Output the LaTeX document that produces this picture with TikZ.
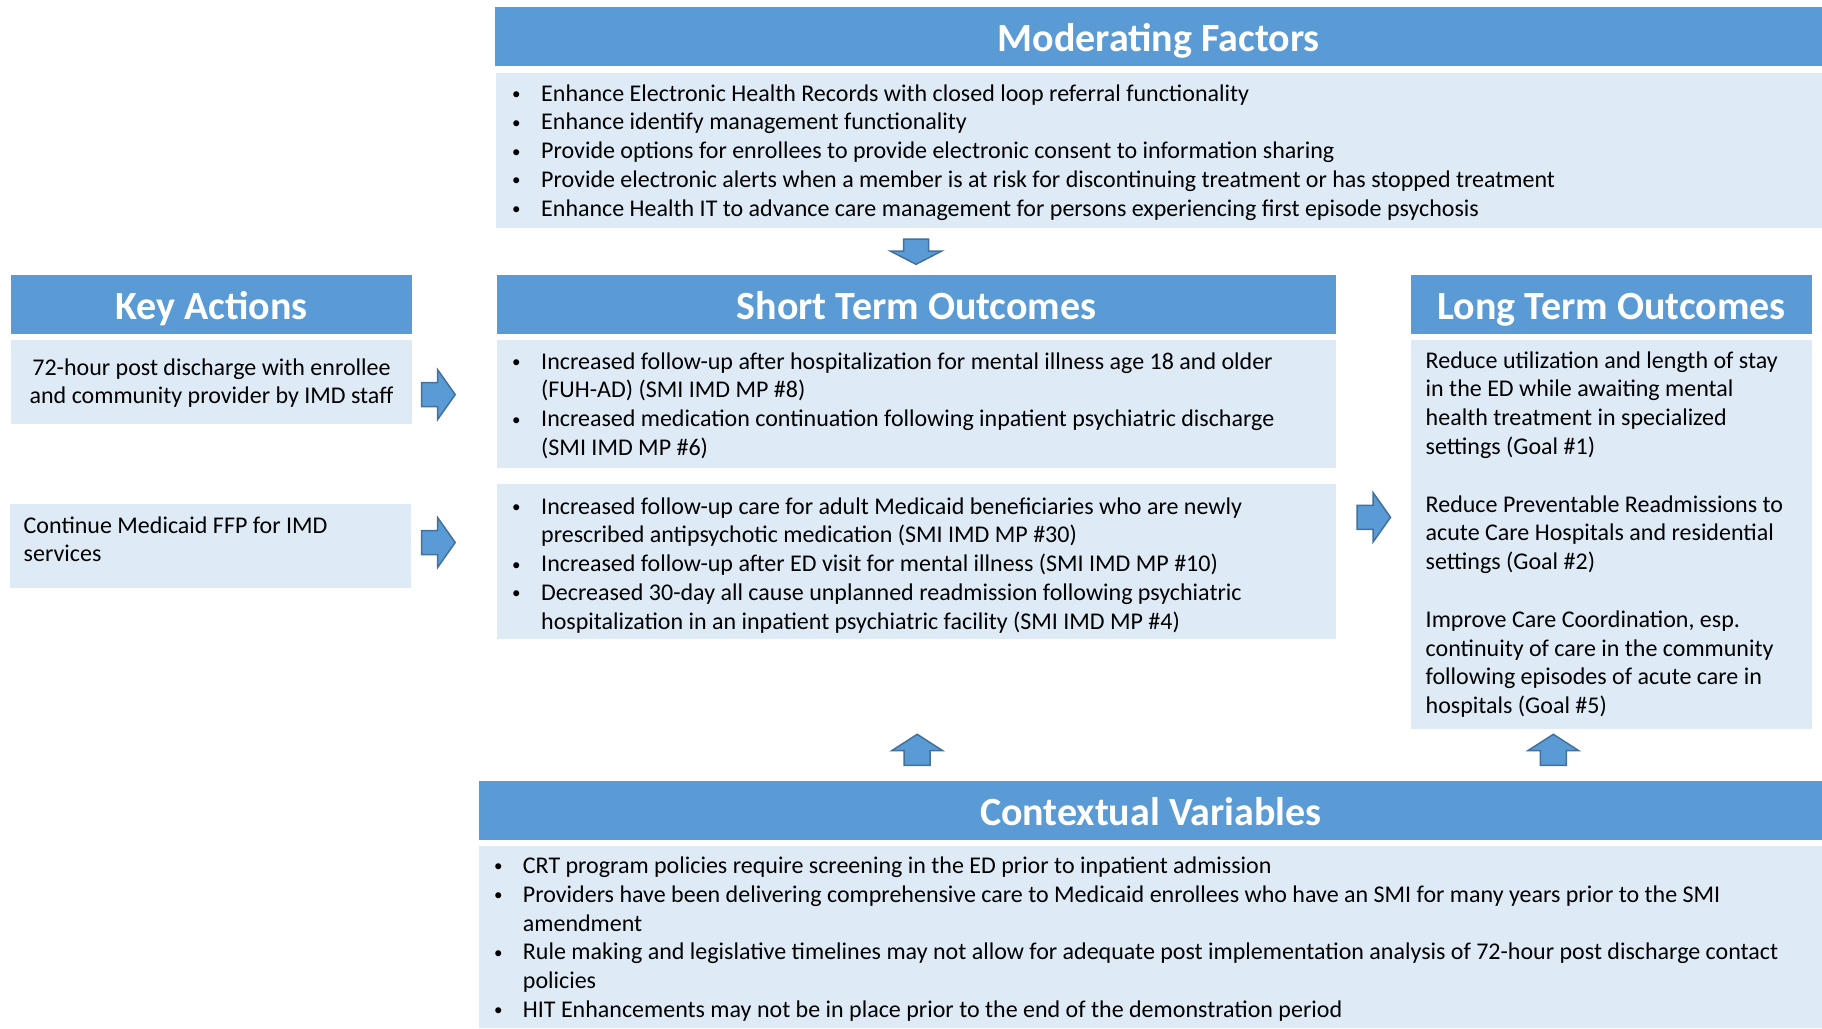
\documentclass[tikz,border=0pt]{standalone}
\usepackage{fontspec}
\setmainfont{Carlito}
\definecolor{hdrblue}{HTML}{5B9BD5}
\definecolor{bodyblue}{HTML}{DEEBF7}
\definecolor{arrowedge}{HTML}{41719C}
\newcommand\smallbul{\raisebox{1.6pt}{\fontsize{17}{20}\selectfont •}}
\newcommand\mybul{\makebox[30pt][l]{\hspace*{1pt}\smallbul}}
\newcommand\mybulc{\makebox[29.7pt][l]{\hspace*{1pt}\smallbul}}
\tikzset{
  hdr/.style={rectangle, fill=hdrblue, text=white, font=\fontsize{40}{48}\selectfont\bfseries,
    inner sep=0pt, text height=44.3pt, text depth=14.7pt, anchor=north west},
  bodybox/.style={rectangle, fill=bodyblue, inner sep=0pt, anchor=north west},
  bodytext/.style={inner sep=0pt, anchor=north west, font=\fontsize{24}{28.8}\selectfont, text=black},
  blockarrow/.style={fill=hdrblue, draw=arrowedge, line width=1.5pt, line join=miter},
  rblock/.pic={\path[blockarrow] (0,-12) -- (16,-12) -- (16,-24.8) -- (33.5,0) -- (16,24.8) -- (16,12) -- (0,12) -- cycle;},
  ublock/.pic={\path[blockarrow] (0,0) -- (25.5,16.4) -- (13,16.4) -- (13,31) -- (-13,31) -- (-13,16.4) -- (-25.5,16.4) -- cycle;},
  dblock/.pic={\path[blockarrow] (0,0) -- (25.8,-13.3) -- (12.5,-13.3) -- (12.5,-25.3) -- (-12.5,-25.3) -- (-12.5,-13.3) -- (-25.8,-13.3) -- cycle;},
}
\begin{document}
\begin{tikzpicture}[x=1pt,y=-1pt]
\useasboundingbox[fill=white] (0,0) rectangle (1822,1028);

% Moderating Factors
\node[hdr, minimum width=1327pt] (mfh) at (495,7) {Moderating Factors};
\node[bodybox, minimum width=1326pt, minimum height=155.3pt] (mfb) at (496,72.7) {};
\node[bodytext] (mft) at (511,80.8) {\begin{tabular}{@{}l@{}l@{}}
\mybul & Enhance Electronic Health Records with closed loop referral functionality\\
\mybul & Enhance identify management functionality\\
\mybul & Provide options for enrollees to provide electronic consent to information sharing\\
\mybul & Provide electronic alerts when a member is at risk for discontinuing treatment or has stopped treatment\\
\mybul & Enhance Health IT to advance care management for persons experiencing first episode psychosis
\end{tabular}};

% Key Actions
\node[hdr, minimum width=401pt] (kah) at (11,275) {Key Actions};
\node[bodybox, minimum width=401pt, minimum height=84pt] (ka1) at (11,340) {};
\node[bodybox, minimum width=401pt, minimum height=84pt] (ka2) at (10,503.3) {};
\node[bodytext, anchor=north] (ka1t) at (211.5,354.8) {\begin{tabular}{@{}c@{}}
72-hour post discharge with enrollee\\
and community provider by IMD staff
\end{tabular}};
\node[bodytext] (ka2t) at (23.5,512.8) {\begin{tabular}{@{}l@{}}
Continue Medicaid FFP for IMD\\
services
\end{tabular}};

% Short Term Outcomes
\node[hdr, minimum width=839pt] (sth) at (497,275) {Short Term Outcomes};
\node[bodybox, minimum width=839pt, minimum height=127.3pt] (st1) at (497,340) {};
\node[bodybox, minimum width=839pt, minimum height=155pt] (st2) at (497,484) {};
\node[bodytext] (st1t) at (511,348.8) {\begin{tabular}{@{}l@{}l@{}}
\mybul & Increased follow-up after hospitalization for mental illness age 18 and older\\
 & (FUH-AD) (SMI IMD MP \#8)\\
\mybul & Increased medication continuation following inpatient psychiatric discharge\\
 & (SMI IMD MP \#6)
\end{tabular}};
\node[bodytext] (st2t) at (511,493.8) {\begin{tabular}{@{}l@{}l@{}}
\mybul & Increased follow-up care for adult Medicaid beneficiaries who are newly\\
 & prescribed antipsychotic medication (SMI IMD MP \#30)\\
\mybul & Increased follow-up after ED visit for mental illness (SMI IMD MP \#10)\\
\mybul & Decreased 30-day all cause unplanned readmission following psychiatric\\
 & hospitalization in an inpatient psychiatric facility (SMI IMD MP \#4)
\end{tabular}};

% Long Term Outcomes
\node[hdr, minimum width=401pt] (lth) at (1411,275) {Long Term Outcomes};
\node[bodybox, minimum width=401pt, minimum height=389pt] (ltb) at (1411,340) {};
\node[bodytext] (ltt) at (1425.5,347.8) {\begin{tabular}{@{}l@{}}
Reduce utilization and length of stay\\
in the ED while awaiting mental\\
health treatment in specialized\\
settings (Goal \#1)\\
\\
Reduce Preventable Readmissions to\\
acute Care Hospitals and residential\\
settings (Goal \#2)\\
\\
Improve Care Coordination, esp.\\
continuity of care in the community\\
following episodes of acute care in\\
hospitals (Goal \#5)
\end{tabular}};

% Contextual Variables
\node[hdr, minimum width=1343pt] (cvh) at (479,780.7) {Contextual Variables};
\node[bodybox, minimum width=1343pt, minimum height=182pt] (cvb) at (479,846) {};
\node[bodytext] (cvt) at (493,853.1) {\begin{tabular}{@{}l@{}l@{}}
\mybulc & CRT program policies require screening in the ED prior to inpatient admission\\
\mybulc & Providers have been delivering comprehensive care to Medicaid enrollees who have an SMI for many years prior to the SMI\\
 & amendment\\
\mybulc & Rule making and legislative timelines may not allow for adequate post implementation analysis of 72-hour post discharge contact\\
 & policies\\
\mybulc & HIT Enhancements may not be in place prior to the end of the demonstration period
\end{tabular}};

% Block arrows
\pic (a1) at (421.7,394.6) {rblock};
\pic (a2) at (421.7,542.5) {rblock};
\pic (a3) at (1357,517.3) {rblock};
\pic (a4) at (916,264.3) {dblock};
\pic (a5) at (917.2,734.3) {ublock};
\pic (a6) at (1553.3,734.3) {ublock};
\end{tikzpicture}
\end{document}
